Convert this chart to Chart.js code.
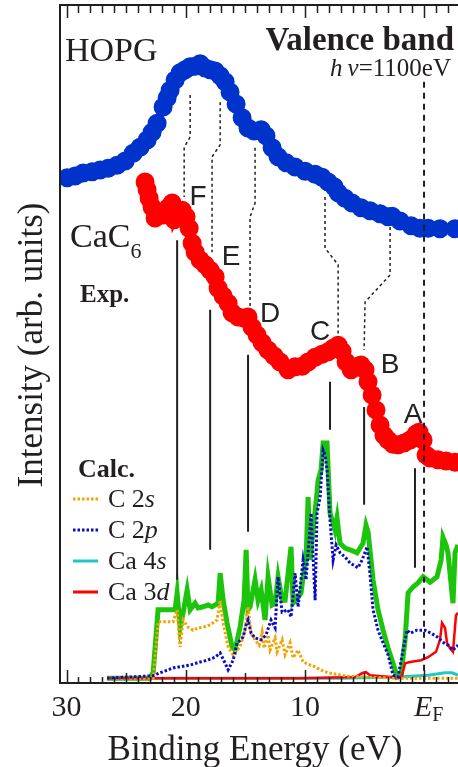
<!DOCTYPE html>
<html>
<head>
<meta charset="utf-8">
<script src="https://cdn.jsdelivr.net/npm/chart.js@4.4.0/dist/chart.umd.min.js"></script>
<style>
  html, body { margin: 0; padding: 0; background: #fff; }
  canvas { display: block; }
</style>
</head>
<body>
<canvas id="chart" width="458" height="767"></canvas>
<script>
// binding energy (eV) and intensity (arb. units)
const hopgE = [29.95, 29.28, 28.61, 27.85, 27.18, 26.51, 25.76, 25.08, 24.41, 23.83,
  23.24, 22.82, 22.40, 21.90, 21.56, 21.31, 20.89, 20.47, 20.05, 19.63,
  19.21, 18.79, 18.37, 17.95, 17.53, 17.11, 16.69, 16.28, 15.77, 15.27,
  14.77, 14.26, 13.67, 13.26, 12.75, 12.25, 11.58, 10.82, 9.98, 9.14,
  8.56, 8.05, 7.55, 7.21, 6.63, 6.04, 5.29, 4.53, 3.69, 3.02,
  2.68, 2.01, 1.09, 0.34, -0.34, -1.34, -2.60];
const hopgI = [84.2, 84.5, 85.0, 85.2, 85.5, 85.8, 86.3, 87.0, 88.3, 89.3,
  90.5, 91.8, 93.3, 96.0, 97.5, 98.8, 100.5, 101.7, 102.2, 102.7,
  102.8, 103.2, 102.5, 102.2, 102.0, 101.2, 100.2, 98.5, 96.5, 94.2,
  92.5, 92.0, 92.2, 91.2, 89.2, 87.7, 86.7, 86.0, 85.3, 84.8,
  84.3, 83.5, 82.7, 81.7, 80.8, 80.0, 79.2, 78.7, 78.2, 77.7,
  77.8, 77.0, 76.2, 75.8, 75.8, 75.7, 75.7];

const cac6E = [23.41, 23.24, 23.07, 22.82, 22.57, 22.32, 21.90, 21.48, 21.14, 20.97,
  20.64, 20.30, 19.97, 19.71, 19.46, 19.21, 18.79, 18.37, 17.95, 17.53,
  17.28, 16.86, 16.44, 16.11, 15.60, 15.10, 14.77, 14.43, 14.01, 13.59,
  13.09, 12.58, 12.08, 11.41, 10.82, 10.23, 9.73, 9.14, 8.56, 8.05,
  7.63, 7.21, 6.88, 6.54, 6.12, 5.70, 5.29, 4.95, 4.70, 4.36,
  4.03, 3.69, 3.36, 3.02, 2.60, 2.18, 1.68, 1.17, 0.67, 0.42,
  0.08, -0.17, -0.50, -1.17, -1.85, -2.60];
const cac6I = [83.5, 82.2, 80.8, 79.3, 77.5, 78.0, 78.0, 79.2, 80.0, 77.2,
  78.5, 78.8, 77.7, 75.8, 73.3, 71.8, 70.5, 69.7, 68.8, 67.7,
  65.8, 64.5, 63.3, 61.7, 61.0, 60.8, 61.0, 59.3, 58.0, 56.7,
  55.5, 54.5, 53.5, 52.2, 52.7, 52.8, 53.5, 54.3, 54.8, 55.2,
  55.8, 56.3, 55.3, 53.5, 52.2, 52.7, 53.0, 52.2, 50.2, 48.0,
  45.5, 43.0, 41.3, 40.5, 39.8, 39.7, 40.0, 40.5, 41.5, 41.8,
  40.5, 38.0, 37.5, 37.2, 37.0, 36.8];

// calculated partial DOS
const totE = [26.6, 22.99, 22.73, 22.32, 20.89, 20.72, 20.47, 20.22, 19.88, 19.63,
  19.21, 18.96, 18.54, 18.12, 17.79, 17.28, 17.11, 16.86, 16.53, 16.11,
  15.86, 15.44, 15.10, 14.93, 14.77, 14.60, 14.18, 13.93, 13.67, 13.34,
  13.09, 12.75, 12.50, 12.25, 11.91, 11.66, 11.16, 10.99, 10.74, 10.32,
  10.15, 9.90, 9.73, 9.56, 9.31, 8.98, 8.89, 8.64, 8.47, 8.14,
  7.89, 7.63, 7.47, 7.30, 7.05, 6.63, 6.21, 5.62, 5.12, 4.87,
  4.70, 4.45, 4.28, 3.86, 3.44, 3.02, 2.60, 2.27, 1.93, 1.59,
  1.34, 0.92, 0.50, 0.08, -0.25, -0.50, -1.09, -1.43, -1.59, -1.85,
  -2.01, -2.43, -2.60, -2.85];
const totI = [0.8, 0.8, 1.8, 12.2, 12.2, 15.0, 9.3, 11.7, 15.5, 12.2,
  13.3, 12.5, 12.7, 13.0, 12.7, 13.3, 18.3, 13.8, 10.0, 6.0,
  5.5, 9.3, 13.8, 22.2, 12.2, 12.7, 17.2, 13.8, 15.5, 10.5,
  17.7, 13.0, 13.3, 17.7, 13.8, 13.8, 22.7, 13.3, 13.8, 15.0,
  17.7, 20.5, 31.0, 20.5, 25.5, 31.7, 33.8, 35.5, 40.0, 40.0,
  28.3, 26.7, 25.5, 27.5, 23.3, 22.5, 22.2, 21.7, 23.3, 26.3,
  25.2, 20.5, 17.2, 12.2, 8.8, 5.8, 3.3, 1.0, 1.3, 7.2,
  15.0, 16.0, 16.7, 17.7, 17.2, 16.8, 17.7, 20.5, 24.3, 23.0,
  21.7, 13.3, 21.7, 23.0];

const c2pE = [26.6, 22.73, 22.15, 21.06, 20.47, 19.63, 18.79, 18.20, 17.53, 17.11,
  16.69, 16.44, 16.02, 15.69, 15.35, 15.18, 14.93, 14.77, 14.51, 14.18,
  13.67, 13.26, 12.84, 12.50, 12.25, 11.91, 11.41, 11.16, 10.82, 10.57,
  10.15, 9.90, 9.48, 9.14, 8.98, 8.72, 8.47, 8.30, 8.14, 7.89,
  7.63, 7.38, 7.05, 6.63, 6.21, 5.54, 5.20, 4.78, 4.53, 4.28,
  3.86, 3.44, 3.02, 2.60, 2.18, 1.76, 1.43, 1.17, 0.59, -0.08,
  -0.59, -1.09, -1.59, -2.01, -2.43, -2.85];
const c2pI = [0.8, 1.2, 1.7, 2.5, 2.7, 3.0, 3.5, 3.8, 4.3, 5.0,
  3.3, 2.2, 3.8, 6.7, 7.2, 7.7, 9.7, 10.5, 8.3, 7.5,
  7.2, 8.0, 10.5, 9.2, 17.7, 11.8, 12.2, 11.0, 18.3, 12.7,
  20.5, 17.2, 28.3, 13.8, 28.3, 31.0, 38.8, 38.0, 35.5, 27.2,
  20.5, 23.0, 21.7, 21.0, 20.0, 19.2, 20.5, 22.7, 18.0, 12.2,
  8.8, 6.7, 4.7, 1.3, 1.0, 5.5, 8.8, 8.3, 8.8, 8.8,
  8.3, 7.7, 6.8, 6.3, 5.5, 6.3];

const c2sE = [26.6, 22.73, 22.32, 21.06, 20.72, 20.47, 20.22, 19.80, 19.38, 18.96,
  18.54, 17.95, 17.37, 17.11, 16.86, 16.44, 16.02, 15.44, 15.02, 14.77,
  14.51, 14.18, 13.84, 13.59, 13.42, 13.09, 12.92, 12.50, 12.33, 11.91,
  11.66, 11.24, 10.99, 10.57, 10.15, 9.56, 9.14, 8.72, 8.05, 6.63,
  5.29, 2.43, -0.34, -2.85];
const c2sI = [0.8, 0.8, 10.2, 10.2, 12.2, 6.0, 10.5, 9.3, 8.8, 9.2,
  9.3, 9.7, 10.5, 13.8, 10.0, 6.0, 4.7, 6.0, 8.8, 12.7,
  8.3, 7.2, 6.3, 8.5, 5.8, 8.0, 5.5, 7.5, 5.2, 7.2,
  4.7, 6.7, 4.2, 5.5, 3.5, 3.0, 2.7, 2.2, 1.7, 1.2,
  1.0, 0.8, 0.8, 0.8];

const ca4sE = [26.6, 10.4, 7.05, 2.18, -0.34, -1.76, -2.35, -2.85];
const ca4sI = [0.8, 0.8, 0.8, 1.0, 1.3, 1.7, 1.7, 1.3];

const ca3dE = [26.6, 10.4, 5.79, 5.12, 4.87, 4.53, 2.85, 2.18, 1.85, 1.59,
  1.17, 0.25, -0.34, -1.01, -1.34, -1.51, -1.76, -1.93, -2.18, -2.43,
  -2.68, -2.85];
const ca3dI = [0.8, 0.8, 1.0, 1.7, 1.8, 1.3, 1.0, 0.8, 1.2, 3.3,
  3.5, 3.8, 4.3, 5.2, 7.2, 10.0, 9.2, 6.7, 5.8, 5.2,
  11.3, 11.7];

// features A-F: solid marker lines between Exp. and Calc.
const featNames = ['F', 'E', 'D', 'C', 'B', 'A'];
const featE = [20.72, 17.95, 14.77, 7.89, 5.03, 0.76];
const featTop = [73.8, 62.2, 54.7, 50.2, 46.0, 35.8];
const featBottom = [17.2, 22.2, 25.2, 42.2, 29.7, 19.2];
const labelE = [18.96, 16.19, 12.92, 8.72, 2.85, 0.92];
const labelI = [79.7, 69.7, 60.2, 57.2, 51.7, 43.3];

// dotted links HOPG -> CaC6 (F, E, D, C, B)
const linkE = [[19.63, 19.63, 20.13, 20.13], [17.11, 17.11, 17.79, 17.79], [14.18, 14.18, 14.60, 14.60],
  [8.31, 8.31, 7.21, 7.21], [2.85, 2.85, 4.95, 5.03]];
const linkI = [[98.0, 91.0, 89.3, 81.0], [96.8, 89.7, 87.7, 71.8], [89.2, 80.0, 77.7, 62.2],
  [81.0, 72.5, 69.7, 57.7], [76.0, 68.0, 63.5, 55.5]];

const efTop = 100.2;
const tickLabels = [30, 20, 10];

const SERIF = '"Liberation Serif", "Times New Roman", serif';
const SANS = '"Liberation Sans", Arial, sans-serif';
const INK = '#231f20';

const xy = (xs, ys) => xs.map((x, i) => ({x: x, y: ys[i]}));

const datasets = [];

// black guide lines on top
datasets.push({data: [{x: 0, y: efTop}, {x: 0, y: 0}], borderColor: INK, borderWidth: 2, borderDash: [6, 5]});
featE.forEach((e, i) => {
  datasets.push({data: [{x: e, y: featTop[i]}, {x: e, y: featBottom[i]}], borderColor: INK, borderWidth: 2});
});
linkE.forEach((es, i) => {
  datasets.push({data: xy(es, linkI[i]), borderColor: INK, borderWidth: 1.5, borderDash: [3, 3]});
});

datasets.push({data: xy(c2pE, c2pI), borderColor: '#0a0ac8', borderWidth: 3, borderDash: [2.5, 2]});
datasets.push({data: xy(c2sE, c2sI), borderColor: '#f5a300', borderWidth: 3, borderDash: [2.5, 2]});
datasets.push({data: xy(ca3dE, ca3dI), borderColor: '#ff0000', borderWidth: 2.5});
datasets.push({data: xy(ca4sE, ca4sI), borderColor: '#1ec8c8', borderWidth: 3});
datasets.push({data: xy(totE, totI), borderColor: '#1cc40c', borderWidth: 5});

datasets.push({data: xy(hopgE, hopgI), borderColor: '#0033cc', backgroundColor: '#0033cc',
  borderWidth: 8, pointRadius: 5.5});
datasets.push({data: xy(cac6E, cac6I), borderColor: '#ff0000', backgroundColor: '#ff0000',
  borderWidth: 8, pointRadius: 5.5});

function runs(ctx, parts, x, y, align) {
  let w = 0;
  parts.forEach(p => { ctx.font = p[1]; w += ctx.measureText(p[0]).width; });
  let cx = align === 'right' ? x - w : align === 'center' ? x - w / 2 : x;
  parts.forEach(p => {
    ctx.font = p[1];
    ctx.fillText(p[0], cx, y + (p[2] || 0));
    cx += ctx.measureText(p[0]).width;
  });
}

const decor = {
  id: 'decor',
  afterDraw(chart) {
    const {ctx, chartArea: a} = chart;
    const x = chart.scales.x, y = chart.scales.y;
    ctx.save();
    // frame
    ctx.strokeStyle = INK;
    ctx.lineWidth = 2;
    ctx.beginPath();
    ctx.moveTo(a.right + 2, a.top);
    ctx.lineTo(a.left, a.top);
    ctx.lineTo(a.left, a.bottom);
    ctx.lineTo(a.right + 2, a.bottom);
    ctx.stroke();
    // inward ticks every 1 eV
    ctx.lineWidth = 1.5;
    for (let v = -2; v <= 30; v++) {
      const px = Math.round(x.getPixelForValue(v)) + 0.5;
      const big = v % 10 === 0;
      const mid = v % 5 === 0;
      ctx.beginPath();
      ctx.moveTo(px, a.bottom);
      ctx.lineTo(px, a.bottom - (big ? 13 : mid ? 10 : 6));
      ctx.moveTo(px, a.top);
      ctx.lineTo(px, a.top + (big ? 13 : 8));
      ctx.stroke();
    }

    ctx.fillStyle = INK;
    ctx.textBaseline = 'alphabetic';
    // tick labels
    tickLabels.forEach(t => runs(ctx, [[String(t), '30px ' + SERIF]], x.getPixelForValue(t), 716, 'center'));
    runs(ctx, [['E', 'italic 30px ' + SERIF], ['F', '20px ' + SERIF, 5]], x.getPixelForValue(0) - 10, 716, 'left');
    // axis titles
    runs(ctx, [['Binding Energy (eV)', '35px ' + SERIF]], 255, 760, 'center');
    ctx.save();
    ctx.translate(42, 345);
    ctx.rotate(-Math.PI / 2);
    runs(ctx, [['Intensity (arb. units)', '35px ' + SERIF]], 0, 0, 'center');
    ctx.restore();

    // panel texts
    runs(ctx, [['HOPG', '34px ' + SERIF]], 65, 61, 'left');
    runs(ctx, [['Valence band', 'bold 33px ' + SERIF]], 454, 50, 'right');
    runs(ctx, [['h', 'italic 25px ' + SERIF], ['\u2009\u03bd', 'italic 25px ' + SERIF], ['=1100eV', '25px ' + SERIF]], 451, 76, 'right');
    runs(ctx, [['CaC', '34px ' + SERIF], ['6', '22px ' + SERIF, 11]], 70, 247, 'left');
    runs(ctx, [['Exp.', 'bold 25px ' + SERIF]], 80, 302, 'left');
    runs(ctx, [['Calc.', 'bold 26px ' + SERIF]], 78, 477, 'left');

    // legend
    const leg = [
      {c: '#f5a300', dash: [2.5, 2], w: 3, t: [['C 2', '26px ' + SERIF], ['s', 'italic 26px ' + SERIF]]},
      {c: '#0a0ac8', dash: [2.5, 2], w: 3, t: [['C 2', '26px ' + SERIF], ['p', 'italic 26px ' + SERIF]]},
      {c: '#1ec8c8', dash: [], w: 3, t: [['Ca 4', '26px ' + SERIF], ['s', 'italic 26px ' + SERIF]]},
      {c: '#ff0000', dash: [], w: 3, t: [['Ca 3', '26px ' + SERIF], ['d', 'italic 26px ' + SERIF]]}
    ];
    leg.forEach((l, i) => {
      const base = 507 + i * 31;
      ctx.strokeStyle = l.c;
      ctx.lineWidth = l.w;
      ctx.setLineDash(l.dash);
      ctx.beginPath();
      ctx.moveTo(73, base - 8);
      ctx.lineTo(98, base - 8);
      ctx.stroke();
      ctx.setLineDash([]);
      ctx.fillStyle = INK;
      runs(ctx, l.t, 108, base, 'left');
    });

    // feature letters
    ctx.fillStyle = '#222';
    featNames.forEach((n, i) => {
      runs(ctx, [[n, '28px ' + SANS]], x.getPixelForValue(labelE[i]), y.getPixelForValue(labelI[i]), 'center');
    });
    ctx.restore();
  }
};

new Chart(document.getElementById('chart'), {
  type: 'line',
  data: {datasets: datasets},
  options: {
    responsive: false,
    animation: false,
    events: [],
    layout: {autoPadding: false, padding: {left: 60, top: 5, right: 0, bottom: 84}},
    plugins: {legend: {display: false}, tooltip: {enabled: false}},
    elements: {line: {tension: 0, fill: false}, point: {radius: 0, borderWidth: 0}},
    scales: {
      x: {type: 'linear', reverse: true, min: -2.85, max: 30.55, display: false},
      y: {type: 'linear', min: 0, max: 113, display: false}
    }
  },
  plugins: [decor]
});
</script>
</body>
</html>
